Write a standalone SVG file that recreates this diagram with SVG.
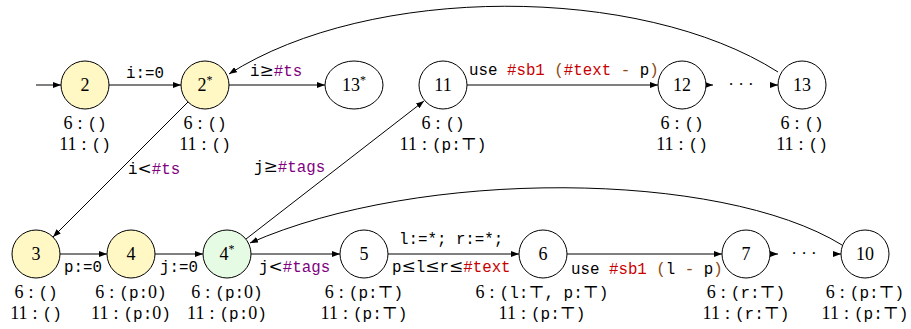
<svg xmlns="http://www.w3.org/2000/svg" width="911" height="329" viewBox="0 0 911 329">
<style>
.nd{fill:#fff;stroke:#000;stroke-width:1}
.y{fill:#fff8c5}
.g{fill:#e6fbe3}
.num{font-family:"Liberation Serif","DejaVu Serif",serif;font-size:18px;text-anchor:middle;fill:#000}
.ann{font-family:"Liberation Serif","DejaVu Serif",serif;font-size:18px;text-anchor:middle;fill:#000}
.tt{font-family:"Liberation Mono","DejaVu Sans Mono",monospace;font-size:16px}
.sf{font-family:"Liberation Serif","DejaVu Serif",serif;font-size:18px}
.ms{font-family:"DejaVu Serif","Liberation Serif",serif;font-size:17px}
.lbl{font-family:"Liberation Mono","DejaVu Sans Mono",monospace;font-size:15.8px;fill:#000}
.pu{fill:#800080}
.rd{fill:#c80000}
.br{fill:#8b4a10}
.e{fill:none;stroke:#000;stroke-width:1;marker-end:url(#ah)}
.dots{font-family:"Liberation Serif","DejaVu Serif",serif;font-size:17px;text-anchor:middle}
</style>
<defs>
<marker id="ah" markerUnits="userSpaceOnUse" markerWidth="8" markerHeight="6" refX="8" refY="3" orient="auto">
<path d="M0,0 L8,3 L0,6 z" fill="#000"/>
</marker>
</defs>
<g id="connectors">
<path class="e" d="M36,85 L61,85"/>
<path class="e" d="M109,85 L181,85"/>
<path class="e" d="M229,85 L325,85"/>
<path class="e" d="M467,85 L658,85"/>
<path class="e" d="M705,85 L713,85"/>
<path class="e" d="M770,85 L778,85"/>
<path class="e" d="M188,102 L53,237"/>
<path class="e" d="M246,239 L424,101"/>
<path class="e" d="M778,72 C640,-16 370,-16 229,74"/>
<path class="e" d="M60,254 L107,254"/>
<path class="e" d="M155,254 L203,254"/>
<path class="e" d="M251,254 L340,254"/>
<path class="e" d="M388,254 L519,254"/>
<path class="e" d="M567,254 L722,254"/>
<path class="e" d="M770,254 L778,254"/>
<path class="e" d="M833,254 L841,254"/>
<path class="e" d="M842,245 C720,170 420,168 250,243"/>
<text class="dots" x="741" y="90">· · ·</text>
<text class="dots" x="804" y="259">· · ·</text>
<text class="lbl" x="126" y="78">i:=0</text>
<text class="lbl" x="250" y="76">i<tspan class="ms">≥</tspan><tspan class="pu">#ts</tspan></text>
<text class="lbl" x="469" y="75">use <tspan class="rd">#sb1</tspan> <tspan class="br">(</tspan><tspan class="rd">#text</tspan><tspan class="br"> - </tspan>p<tspan class="br">)</tspan></text>
<text class="lbl" x="128" y="174">i<tspan class="ms">&lt;</tspan><tspan class="pu">#ts</tspan></text>
<text class="lbl" x="254" y="172">j<tspan class="ms">≥</tspan><tspan class="pu">#tags</tspan></text>
<text class="lbl" x="64" y="272">p:=0</text>
<text class="lbl" x="160" y="272">j:=0</text>
<text class="lbl" x="259" y="272">j<tspan class="ms">&lt;</tspan><tspan class="pu">#tags</tspan></text>
<text class="lbl" x="399" y="244">l:=*; r:=*;</text>
<text class="lbl" x="392" y="272">p<tspan class="ms">≤</tspan>l<tspan class="ms">≤</tspan>r<tspan class="ms">≤</tspan><tspan class="rd">#text</tspan></text>
<text class="lbl" x="571" y="274">use <tspan class="rd">#sb1</tspan> <tspan class="br">(</tspan>l<tspan class="br"> - </tspan>p<tspan class="br">)</tspan></text>
</g>
<g id="n2">
<circle class="nd y" cx="85" cy="85" r="24"/>
<text class="num" x="85" y="91">2</text>
<text class="ann" x="85" y="129">6<tspan dx="5">:</tspan><tspan class="tt" dx="5">()</tspan></text>
<text class="ann" x="85" y="150">11<tspan dx="5">:</tspan><tspan class="tt" dx="5">()</tspan></text>
</g>
<g id="n2s">
<circle class="nd y" cx="205" cy="85" r="24"/>
<text class="num" x="205" y="91">2<tspan dy="-7" font-size="12">*</tspan></text>
<text class="ann" x="205" y="129">6<tspan dx="5">:</tspan><tspan class="tt" dx="5">()</tspan></text>
<text class="ann" x="205" y="150">11<tspan dx="5">:</tspan><tspan class="tt" dx="5">()</tspan></text>
</g>
<g id="n13s">
<ellipse class="nd" cx="354" cy="85" rx="29" ry="24"/>
<text class="num" x="354" y="91">13<tspan dy="-7" font-size="12">*</tspan></text>
</g>
<g id="n11">
<circle class="nd" cx="443" cy="85" r="24"/>
<text class="num" x="443" y="91">11</text>
<text class="ann" x="443" y="129">6<tspan dx="5">:</tspan><tspan class="tt" dx="5">()</tspan></text>
<text class="ann" x="443" y="150">11<tspan dx="5">:</tspan><tspan class="tt" dx="5">(p:</tspan><tspan class="ms">⊤</tspan><tspan class="tt">)</tspan></text>
</g>
<g id="n12">
<circle class="nd" cx="682" cy="85" r="24"/>
<text class="num" x="682" y="91">12</text>
<text class="ann" x="682" y="129">6<tspan dx="5">:</tspan><tspan class="tt" dx="5">()</tspan></text>
<text class="ann" x="682" y="150">11<tspan dx="5">:</tspan><tspan class="tt" dx="5">()</tspan></text>
</g>
<g id="n13">
<circle class="nd" cx="802" cy="85" r="24"/>
<text class="num" x="802" y="91">13</text>
<text class="ann" x="802" y="129">6<tspan dx="5">:</tspan><tspan class="tt" dx="5">()</tspan></text>
<text class="ann" x="802" y="150">11<tspan dx="5">:</tspan><tspan class="tt" dx="5">()</tspan></text>
</g>
<g id="n3">
<circle class="nd y" cx="36" cy="254" r="24"/>
<text class="num" x="36" y="260">3</text>
<text class="ann" x="36" y="298">6<tspan dx="5">:</tspan><tspan class="tt" dx="5">()</tspan></text>
<text class="ann" x="36" y="319">11<tspan dx="5">:</tspan><tspan class="tt" dx="5">()</tspan></text>
</g>
<g id="n4">
<circle class="nd y" cx="131" cy="254" r="24"/>
<text class="num" x="131" y="260">4</text>
<text class="ann" x="131" y="298">6<tspan dx="5">:</tspan><tspan class="tt" dx="5">(p:</tspan><tspan class="sf">0</tspan><tspan class="tt">)</tspan></text>
<text class="ann" x="131" y="319">11<tspan dx="5">:</tspan><tspan class="tt" dx="5">(p:</tspan><tspan class="sf">0</tspan><tspan class="tt">)</tspan></text>
</g>
<g id="n4s">
<circle class="nd g" cx="227" cy="254" r="24"/>
<text class="num" x="227" y="260">4<tspan dy="-7" font-size="12">*</tspan></text>
<text class="ann" x="227" y="298">6<tspan dx="5">:</tspan><tspan class="tt" dx="5">(p:</tspan><tspan class="sf">0</tspan><tspan class="tt">)</tspan></text>
<text class="ann" x="227" y="319">11<tspan dx="5">:</tspan><tspan class="tt" dx="5">(p:</tspan><tspan class="sf">0</tspan><tspan class="tt">)</tspan></text>
</g>
<g id="n5">
<circle class="nd" cx="364" cy="254" r="24"/>
<text class="num" x="364" y="260">5</text>
<text class="ann" x="364" y="298">6<tspan dx="5">:</tspan><tspan class="tt" dx="5">(p:</tspan><tspan class="ms">⊤</tspan><tspan class="tt">)</tspan></text>
<text class="ann" x="364" y="319">11<tspan dx="5">:</tspan><tspan class="tt" dx="5">(p:</tspan><tspan class="ms">⊤</tspan><tspan class="tt">)</tspan></text>
</g>
<g id="n6">
<circle class="nd" cx="543" cy="254" r="24"/>
<text class="num" x="543" y="260">6</text>
<text class="ann" x="542" y="298">6<tspan dx="5">:</tspan><tspan class="tt" dx="5">(l:</tspan><tspan class="ms">⊤</tspan><tspan class="tt">, p:</tspan><tspan class="ms">⊤</tspan><tspan class="tt">)</tspan></text>
<text class="ann" x="542" y="319">11<tspan dx="5">:</tspan><tspan class="tt" dx="5">(p:</tspan><tspan class="ms">⊤</tspan><tspan class="tt">)</tspan></text>
</g>
<g id="n7">
<circle class="nd" cx="746" cy="254" r="24"/>
<text class="num" x="746" y="260">7</text>
<text class="ann" x="746" y="298">6<tspan dx="5">:</tspan><tspan class="tt" dx="5">(r:</tspan><tspan class="ms">⊤</tspan><tspan class="tt">)</tspan></text>
<text class="ann" x="746" y="319">11<tspan dx="5">:</tspan><tspan class="tt" dx="5">(r:</tspan><tspan class="ms">⊤</tspan><tspan class="tt">)</tspan></text>
</g>
<g id="n10">
<circle class="nd" cx="865" cy="254" r="24"/>
<text class="num" x="865" y="260">10</text>
<text class="ann" x="865" y="298">6<tspan dx="5">:</tspan><tspan class="tt" dx="5">(p:</tspan><tspan class="ms">⊤</tspan><tspan class="tt">)</tspan></text>
<text class="ann" x="865" y="319">11<tspan dx="5">:</tspan><tspan class="tt" dx="5">(p:</tspan><tspan class="ms">⊤</tspan><tspan class="tt">)</tspan></text>
</g>
</svg>
